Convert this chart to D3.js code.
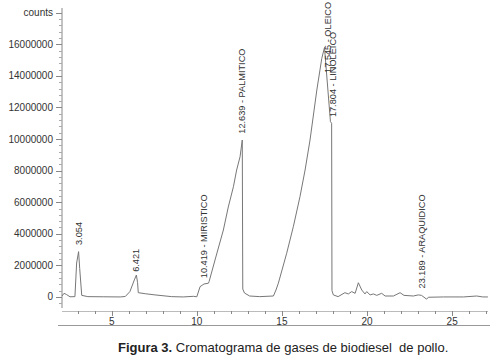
<!DOCTYPE html>
<html>
<head>
<meta charset="utf-8">
<script src="https://cdn.jsdelivr.net/npm/d3@7"></script>
<style>
  body { margin: 0; background: #fff; }
  svg { display: block; font-family: Arial, "Liberation Sans", sans-serif; }
</style>
</head>
<body>
<div id="chart"></div>
<script>
// retention time (min) and detector counts
var retentionTimes = [2.08, 2.2, 2.35, 2.55, 2.84, 2.94, 3.054, 3.12, 3.24, 3.6, 4.5, 5.5, 5.8, 6.07, 6.33, 6.45, 6.52, 6.56, 7.0, 7.54, 8.52, 9.2, 9.8, 10.0, 10.19, 10.42, 10.68, 10.72, 11.07, 11.56, 11.85, 12.15, 12.34, 12.54, 12.67, 12.7, 12.8, 13.1, 13.7, 14.5, 14.65, 14.79, 15.28, 15.67, 16.06, 16.36, 16.65, 17.05, 17.34, 17.5, 17.85, 17.92, 17.94, 18.02, 18.3, 18.7, 18.9, 19.1, 19.3, 19.49, 19.69, 19.88, 19.98, 20.18, 20.37, 20.57, 20.86, 21.06, 21.55, 21.94, 22.17, 22.72, 23.01, 23.2, 23.5, 23.6, 24.5, 25.66, 26.44, 26.8, 27.1];
var counts = [60000, 230000, 150000, 10000, 20000, 2150000, 2870000, 1800000, 100000, 20000, 10000, 0, 30000, 340000, 1080000, 1390000, 900000, 270000, 200000, 130000, 20000, 0, 40000, 10000, 650000, 820000, 870000, 970000, 2340000, 4240000, 5700000, 6980000, 8040000, 8880000, 9940000, 500000, 250000, 60000, 20000, 60000, 440000, 870000, 2770000, 4450000, 6350000, 8040000, 9940000, 13100000, 15100000, 15800000, 11100000, 11000000, 400000, 130000, 20000, 270000, 190000, 340000, 230000, 900000, 440000, 190000, 340000, 130000, 190000, 100000, 230000, 60000, 60000, 270000, 100000, 60000, 130000, 100000, -140000, -20000, 0, 0, 60000, 0, 0];

// peak annotations
var peakLabels = ["3.054", "6.421", "10.419 - MIRISTICO", "12.639 - PALMITICO", "17.545 - OLEICO", "17.804 - LINOLEICO", "23.189 - ARAQUIDICO"];
var labelTimes = [3.054, 6.421, 10.419, 12.639, 17.72, 17.98, 23.189];
var labelCounts = [3100000, 1400000, 1000000, 10150000, 14000000, 11200000, 350000];

var yTickValues = [0, 2000000, 4000000, 6000000, 8000000, 10000000, 12000000, 14000000, 16000000];
var xTickValues = [5, 10, 15, 20, 25];
var caption = ["Figura 3.", " Cromatograma de gases de biodiesel  de pollo."];

var width = 491, height = 357;
var axisColor = "#888", textColor = "#333";

var svg = d3.select("#chart").append("svg")
    .attr("width", width)
    .attr("height", height);

var x = d3.scaleLinear().domain([2.08, 27.1]).range([62, 487.9]);
var y = d3.scaleLinear().domain([-700000, 18300000]).range([308, 8]);

// y axis
var yAxisG = svg.append("g").attr("class", "y-axis");
yAxisG.append("line")
    .attr("x1", 62).attr("x2", 62)
    .attr("y1", y.range()[0]).attr("y2", y.range()[1])
    .style("stroke", axisColor);

yAxisG.selectAll(".minor")
    .data(d3.range(-400000, 18100000, 400000))
    .enter().append("line")
    .attr("class", "minor")
    .attr("x1", 59).attr("x2", 62)
    .attr("y1", function (d) { return Math.round(y(d)) + 0.5; })
    .attr("y2", function (d) { return Math.round(y(d)) + 0.5; })
    .style("stroke", "#aaa");

yAxisG.selectAll(".major")
    .data(yTickValues.concat([18000000]))
    .enter().append("line")
    .attr("class", "major")
    .attr("x1", 56).attr("x2", 62)
    .attr("y1", function (d) { return Math.round(y(d)) + 0.5; })
    .attr("y2", function (d) { return Math.round(y(d)) + 0.5; })
    .style("stroke", axisColor);

yAxisG.selectAll(".ylabel")
    .data(yTickValues)
    .enter().append("text")
    .attr("class", "ylabel")
    .attr("x", 53)
    .attr("y", function (d) { return y(d); })
    .attr("dy", "0.35em")
    .attr("text-anchor", "end")
    .style("font-size", "10px")
    .style("fill", textColor)
    .text(function (d) { return d3.format("d")(d); });

yAxisG.append("text")
    .attr("x", 53)
    .attr("y", y(18000000))
    .attr("dy", "0.35em")
    .attr("text-anchor", "end")
    .style("font-size", "10px")
    .style("fill", textColor)
    .text("counts");

// x axis
var xAxisG = svg.append("g").attr("class", "x-axis");
xAxisG.append("line")
    .attr("x1", 62).attr("x2", 488)
    .attr("y1", 311.5).attr("y2", 311.5)
    .style("stroke", "#bbb");

xAxisG.selectAll(".xtick")
    .data(d3.range(3, 28, 1))
    .enter().append("line")
    .attr("class", "xtick")
    .attr("x1", function (d) { return Math.round(x(d)) + 0.5; })
    .attr("x2", function (d) { return Math.round(x(d)) + 0.5; })
    .attr("y1", 311)
    .attr("y2", function (d) { return d % 5 === 0 ? 316 : 314; })
    .style("stroke", axisColor);

xAxisG.selectAll(".xlabel")
    .data(xTickValues)
    .enter().append("text")
    .attr("class", "xlabel")
    .attr("x", function (d) { return x(d); })
    .attr("y", 325)
    .attr("text-anchor", "middle")
    .style("font-size", "10px")
    .style("fill", textColor)
    .text(function (d) { return d; });

svg.append("line")
    .attr("x1", 58).attr("x2", 490)
    .attr("y1", 325.5).attr("y2", 325.5)
    .style("stroke", "#999");

// trace
var trace = d3.line()
    .x(function (d) { return x(d[0]); })
    .y(function (d) { return y(d[1]); });

svg.append("path")
    .datum(d3.zip(retentionTimes, counts))
    .attr("d", trace)
    .style("fill", "none")
    .style("stroke", "#777")
    .style("stroke-width", 1);

// peak labels, rotated
svg.selectAll(".peak")
    .data(peakLabels)
    .enter().append("text")
    .attr("class", "peak")
    .attr("transform", function (d, i) {
        return "translate(" + x(labelTimes[i]) + "," + (y(labelCounts[i]) - 3) + ") rotate(-90)";
    })
    .attr("dy", "0.35em")
    .style("font-size", "9.2px")
    .style("fill", textColor)
    .text(function (d) { return d; });

// caption
var cap = svg.append("text")
    .attr("x", 118)
    .attr("y", 352)
    .style("font-size", "13px")
    .style("fill", "#222")
    .attr("xml:space", "preserve")
    .style("white-space", "pre");
cap.append("tspan").style("font-weight", "bold").text(caption[0]);
cap.append("tspan").text(caption[1]);
</script>
</body>
</html>
